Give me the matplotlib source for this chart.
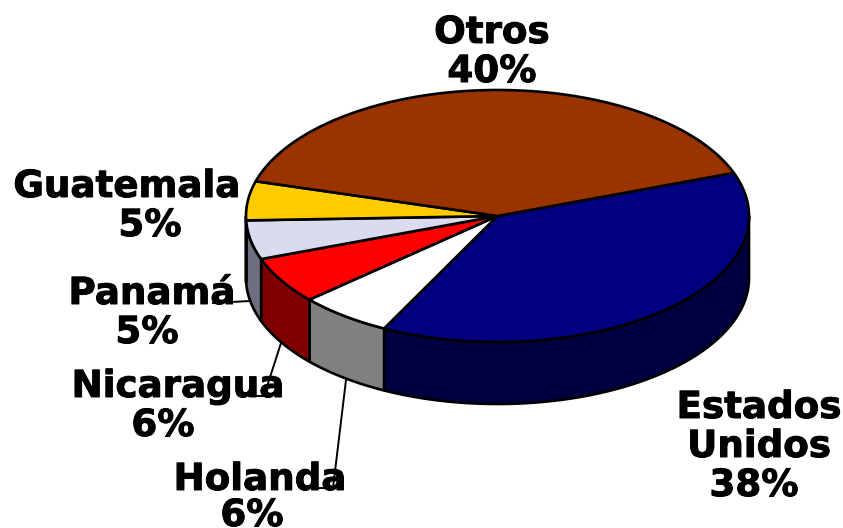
import numpy as np
import matplotlib
matplotlib.use("Agg")
import matplotlib.pyplot as plt
import matplotlib.patheffects as pe

# Data (clockwise from the upper right)
categories = ["Estados Unidos", "Holanda", "Nicaragua", "Panamá", "Guatemala", "Otros"]
shares = [38, 6, 6, 5, 5, 40]
top_colors = ["#000080", "#FFFFFF", "#FF0000", "#D9DBEE", "#FFCC00", "#993300"]
side_colors = ["#000040", "#808080", "#800000", "#6D6E80", "#806600", "#4D1A00"]

# Layout
CX, CY, RX, RY, DEPTH = 497.5, 216, 251.5, 126, 62
START = 20.0
W, H = 843, 528

label_lines = {
    "Otros": [("Otros", 492, 43), ("40%", 492, 82)],
    "Estados Unidos": [("Estados", 759, 418), ("Unidos", 759, 457), ("38%", 754, 496)],
    "Guatemala": [("Guatemala", 127, 197), ("5%", 150, 236)],
    "Panamá": [("Panamá", 152, 304), ("5%", 147, 343)],
    "Nicaragua": [("Nicaragua", 178, 397), ("6%", 163, 436)],
    "Holanda": [("Holanda", 260, 490), ("6%", 252, 526)],
}
leaders = [
    [(212, 303), (250, 301)],
    [(281, 343), (264, 396), (248, 396)],
    [(346, 380), (333, 488), (317, 488)],
]

fig = plt.figure(figsize=(W / 100, H / 100), dpi=100)
ax = fig.add_axes([0, 0, 1, 1])
ax.set_xlim(0, W)
ax.set_ylim(H, 0)
ax.axis("off")


def arc(a0, a1, dy=0.0, n=120):
    t = np.radians(np.linspace(a0, a1, n))
    return CX + RX * np.cos(t), CY - RY * np.sin(t) + dy


# Slice boundaries in degrees, going clockwise
edges = START - np.cumsum([0] + shares) * 360.0 / sum(shares)

# Side walls: only the front half (sin < 0) is visible
for i in range(len(shares)):
    a0, a1 = edges[i], edges[i + 1]
    lo, hi = max(a1, -180.0), min(a0, 0.0)
    if lo >= hi:
        continue
    x0, y0 = arc(hi, lo)
    x1, y1 = arc(lo, hi, dy=DEPTH)
    ax.fill(np.r_[x0, x1], np.r_[y0, y1], facecolor=side_colors[i],
            edgecolor="black", linewidth=1.9, joinstyle="round", zorder=2)

# Top faces
for i in range(len(shares)):
    x, y = arc(edges[i], edges[i + 1])
    ax.fill(np.r_[CX, x], np.r_[CY, y], facecolor=top_colors[i],
            edgecolor="black", linewidth=1.9, joinstyle="round", zorder=3)

# Labels
for cat in categories:
    for text, x, y in label_lines[cat]:
        ax.text(x, y, text, ha="center", va="baseline", fontsize=26.8,
                fontweight="bold", family="DejaVu Sans", color="black", zorder=4,
                path_effects=[pe.withStroke(linewidth=0.7, foreground="black")])

# Leader lines
for pts in leaders:
    xs, ys = zip(*pts)
    ax.plot(xs, ys, color="black", lw=1.4, zorder=5, solid_capstyle="butt")

fig.savefig("out.png", dpi=100, facecolor="white")
